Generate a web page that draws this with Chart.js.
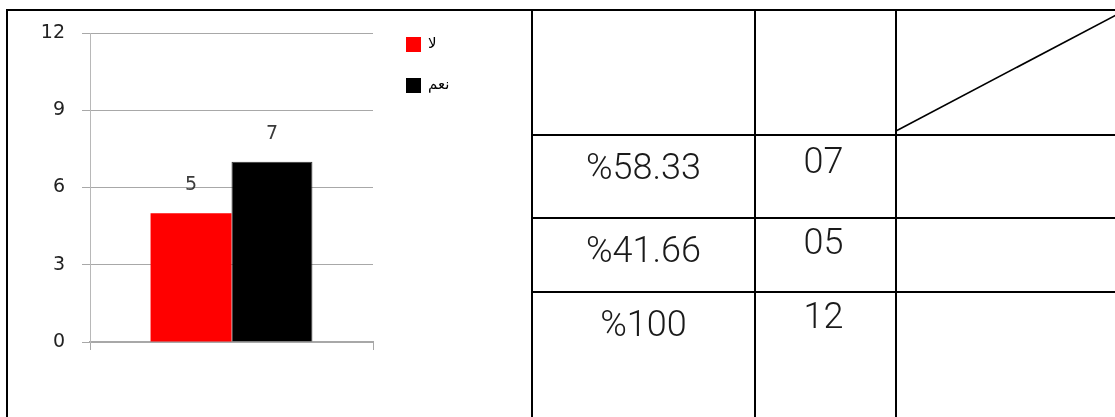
<!DOCTYPE html>
<html>
<head>
<meta charset="utf-8">
<script src="https://cdn.jsdelivr.net/npm/chart.js@4.4.1/dist/chart.umd.min.js"></script>
<style>
  html, body { margin: 0; padding: 0; background: #fff; width: 1115px; height: 417px; overflow: hidden; }
  #chartBox { position: absolute; left: 0; top: 0; width: 532px; height: 417px; }
  .line { position: absolute; background: #000; }
  .cell { position: absolute; text-align: center; font-family: Roboto, "Liberation Sans", sans-serif; font-weight: 300; font-size: 36px; line-height: 36px; color: #1a1a1a; white-space: nowrap; }
  svg { position: absolute; left: 0; top: 0; }
</style>
</head>
<body>
<div id="chartBox"><canvas id="c"></canvas></div>

<!-- table frame -->
<div class="line" style="left:6px; top:9px; width:1109px; height:2px;"></div>
<div class="line" style="left:6px; top:9px; width:2px; height:408px;"></div>
<div class="line" style="left:531px; top:9px; width:2px; height:408px;"></div>
<div class="line" style="left:754px; top:9px; width:2px; height:408px;"></div>
<div class="line" style="left:895px; top:9px; width:2px; height:408px;"></div>
<div class="line" style="left:531px; top:134px; width:584px; height:2px;"></div>
<div class="line" style="left:531px; top:217px; width:584px; height:2px;"></div>
<div class="line" style="left:531px; top:291px; width:584px; height:2px;"></div>
<svg width="1115" height="417"><line x1="896" y1="131" x2="1118" y2="14" stroke="#000" stroke-width="1.6"/></svg>

<div class="cell" style="left:533px; width:221px; top:149px;">%58.33</div>
<div class="cell" style="left:756px; width:135px; top:143px;">07</div>
<div class="cell" style="left:533px; width:221px; top:232px;">%41.66</div>
<div class="cell" style="left:756px; width:135px; top:224px;">05</div>
<div class="cell" style="left:533px; width:221px; top:306px;">%100</div>
<div class="cell" style="left:756px; width:135px; top:298px;">12</div>

<script>
// ---- data ----
const categories = [''];
const seriesNames = ['لا', 'نعم'];
const seriesNo = [5];
const seriesYes = [7];
const yTicks = [0, 3, 6, 9, 12];

const colors = ['#ff0000', '#000000'];

const labelPlugin = {
  id: 'valueAndLegend',
  afterDatasetsDraw(chart) {
    const ctx = chart.ctx;
    ctx.save();
    // value labels
    ctx.font = '19px "DejaVu Sans"';
    ctx.fillStyle = '#3a3a3a';
    ctx.textAlign = 'center';
    ctx.textBaseline = 'middle';
    chart.data.datasets.forEach((ds, i) => {
      chart.getDatasetMeta(i).data.forEach((bar, j) => {
        ctx.fillText(String(ds.data[j]), bar.x, bar.y - 28);
      });
    });
    // legend
    const lx = 406, ly = 37, step = 41, box = 15;
    chart.data.datasets.forEach((ds, i) => {
      const y = ly + i * step;
      ctx.fillStyle = ds.backgroundColor;
      ctx.fillRect(lx, y, box, box);
      ctx.fillStyle = '#000';
      ctx.font = '15px "DejaVu Sans"';
      ctx.textAlign = 'left';
      ctx.textBaseline = 'middle';
      ctx.fillText(ds.label, lx + 22, y + box / 2);
    });
    ctx.restore();
  }
};

new Chart(document.getElementById('c'), {
  type: 'bar',
  data: {
    labels: categories,
    datasets: [
      { label: seriesNames[0], data: seriesNo, backgroundColor: colors[0], borderWidth: 0 },
      { label: seriesNames[1], data: seriesYes, backgroundColor: colors[1], borderColor: '#333', borderWidth: 1 }
    ]
  },
  options: {
    responsive: true,
    maintainAspectRatio: false,
    animation: false,
    devicePixelRatio: 1,
    categoryPercentage: 0.572,
    barPercentage: 1,
    layout: { padding: { top: 33, left: 0, right: 159, bottom: 0 } },
    plugins: { legend: { display: false }, tooltip: { enabled: false } },
    scales: {
      x: {
        grid: { offset: true, drawOnChartArea: false, drawTicks: true, tickLength: 8, color: '#a8a8a8' },
        border: { display: true, color: '#a8a8a8', width: 2 },
        ticks: { display: false },
        afterFit(s) { s.height = 75; }
      },
      y: {
        min: 0, max: 12,
        afterBuildTicks(s) { s.ticks = yTicks.map(v => ({ value: v })); },
        grid: { color: '#a8a8a8', tickLength: 8, lineWidth: 1 },
        border: { display: true, color: '#b8b8b8' },
        ticks: { padding: 17, color: '#222', font: { family: 'DejaVu Sans', size: 19 } },
        afterFit(s) { s.width = 90; }
      }
    }
  },
  plugins: [labelPlugin]
});
</script>
</body>
</html>
